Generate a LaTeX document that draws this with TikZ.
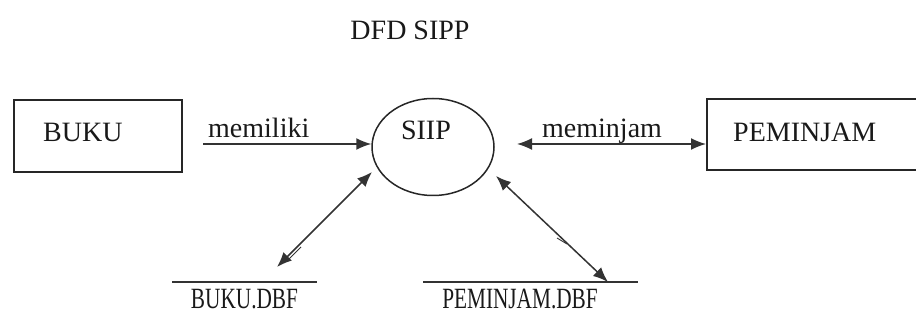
\documentclass[tikz,border=0pt]{standalone}
\usepackage{fontspec}
\setmainfont{Liberation Serif}
\usetikzlibrary{shapes.geometric,arrows.meta}
\tikzset{
  txt/.style={font=\fontsize{28}{30}\selectfont, inner sep=0pt, text=black!90},
  entity/.style={draw=black!85, line width=1.7pt, inner sep=0pt},
  flow/.style={draw=black!80, line width=1.5pt},
  tip/.style={-{Latex[length=15pt,width=12pt]}},
  both/.style={{Latex[length=15pt,width=12pt]}-{Latex[length=15pt,width=12pt]}},
  store/.style={draw=black!80, line width=1.7pt},
}
\begin{document}
\begin{tikzpicture}[x=1pt,y=-1pt]
\useasboundingbox (0,0) rectangle (916,323);
\clip (0,0) rectangle (916,323);
% title
\node[txt] (title) at (410,30) {DFD SIPP};
% entities
\node[entity, minimum width=168pt, minimum height=72pt, anchor=north west] (buku) at (13,99) {};
\node[txt, anchor=west] (bukutxt) at (43,132) {BUKU};
\node[entity, minimum width=240pt, minimum height=71pt, anchor=north west] (pem) at (706,98) {};
\node[txt, anchor=west] (pemtxt) at (733,132) {PEMINJAM};
% process
\node[ellipse, draw=black!85, line width=1.5pt, minimum width=122pt, minimum height=97pt, inner sep=0pt] (siip) at (433,147) {};
\node[txt] (siiptxt) at (426,130) {SIIP};
% data stores
\coordinate (s1a) at (172,282);
\coordinate (s1b) at (317,282);
\draw[store] (s1a) -- (s1b);
\node[txt] (s1txt) at (244.5,299) {\scalebox{0.76}[1.05]{BUKU.DBF}};
\coordinate (s2a) at (423,282);
\coordinate (s2b) at (638,282);
\draw[store] (s2a) -- (s2b);
\node[txt] (s2txt) at (520,299) {\scalebox{0.76}[1.05]{PEMINJAM.DBF}};
% flows
\coordinate (m1) at (203,144);
\draw[flow, tip] (m1) -- (siip.west |- m1);
\node[txt, anchor=base west] (memiliki) at (208,138) {memiliki};
\coordinate (p1) at (517,144);
\draw[flow, both] (p1) -- (pem.west |- p1);
\node[txt, anchor=base west] (meminjam) at (542,138) {meminjam};
\coordinate (d1top) at (372,172);
\coordinate (d1bot) at (277,267);
\draw[flow, both] (d1top) -- (d1bot);
\draw[flow, line width=0.9pt] (301,247) -- (287,261);
\coordinate (d2top) at (496,176);
\coordinate (d2bot) at (608,282);
\draw[flow, both] (d2top) -- (d2bot);
\draw[flow, line width=0.9pt] (557,238) -- (567,244);
\end{tikzpicture}
\end{document}
